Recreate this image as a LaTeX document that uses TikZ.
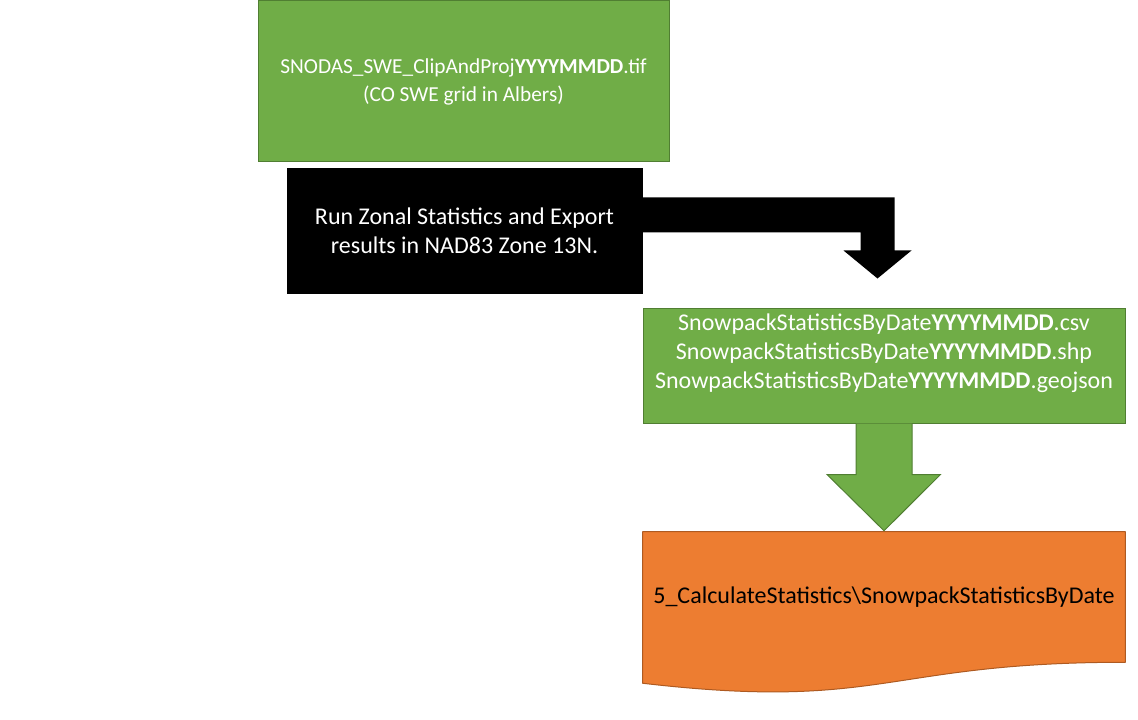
\documentclass[tikz,border=0pt]{standalone}
\usepackage{fontspec}
\setmainfont{Carlito}
\usepackage{tikz}
\usetikzlibrary{calc, backgrounds}
\definecolor{BoxGreen}{HTML}{70AD47}
\definecolor{GreenEdge}{HTML}{507E32}
\definecolor{BoxOrange}{HTML}{ED7D31}
\definecolor{OrangeEdge}{HTML}{AE5A21}

\begin{document}
\begin{tikzpicture}[
    x=0.75pt, y=-0.75pt,
    font=\fontsize{18pt}{21.75pt}\selectfont,
    every node/.style={align=center, inner sep=0pt},
    filebox/.style={
      draw=GreenEdge, fill=BoxGreen, text=white, line width=0.75pt,
    },
    stepbox/.style={
      draw=black, fill=black, text=white, line width=0.75pt,
    },
    outshape/.style={
      draw=OrangeEdge, fill=BoxOrange, line width=0.75pt, line join=round,
    },
    greenarrow/.style={
      draw=GreenEdge, fill=BoxGreen, line width=0.75pt,
    },
  ]
    \useasboundingbox (0,0) rectangle (1138,720);

    \node[filebox, minimum width=308.25pt, minimum height=120.75pt,
      font=\fontsize{16pt}{21pt}\selectfont] (tif) at (463.5,81.5)
      {SNODAS\_SWE\_ClipAndProj\textbf{YYYYMMDD}.tif\\
       (CO SWE grid in Albers)};

    \node[stepbox, minimum width=266.25pt, minimum height=93pt] (run) at (464.5,231)
      {Run Zonal Statistics and Export\\
       results in NAD83 Zone 13N.};

    \node[filebox, minimum width=361.5pt, minimum height=86.25pt] (stats) at (884,365.5)
      {SnowpackStatisticsByDate\textbf{YYYYMMDD}.csv\\
       SnowpackStatisticsByDate\textbf{YYYYMMDD}.shp\\
       SnowpackStatisticsByDate\textbf{YYYYMMDD}.geojson\\ ~};

    \node[minimum width=361.5pt, minimum height=97.5pt] (doc) at (884,597)
      {5\_CalculateStatistics\textbackslash SnowpackStatisticsByDate};

    \begin{scope}[on background layer]
      \draw[outshape] (doc.north west) -- (doc.north east) -- (doc.south east)
        .. controls (doc.south) and ($(doc.south)+(0,49)$) .. ($(doc.south west)+(0,21)$)
        -- cycle;
    \end{scope}

    % bent arrow out of the black step
    \fill[black] ($(run.north east)+(0,29)$) -- ++(252,0) -- ++(0,53) -- ++(17,0)
      -- ++(-34,28) -- ++(-34,-28) -- ++(17,0) -- ++(0,-18) -- ++(-218,0) -- cycle;

    % down arrow, open at the top so it joins the box
    \filldraw[greenarrow] ($(stats.south)+(-28,0)$) -- ++(0,51) -- ++(-29,0)
      -- ($(doc.north)+(0,-1)$) -- ($(stats.south)+(56.5,51)$) -- ++(-28.5,0)
      -- ($(stats.south)+(28,0)$);
\end{tikzpicture}
\end{document}
